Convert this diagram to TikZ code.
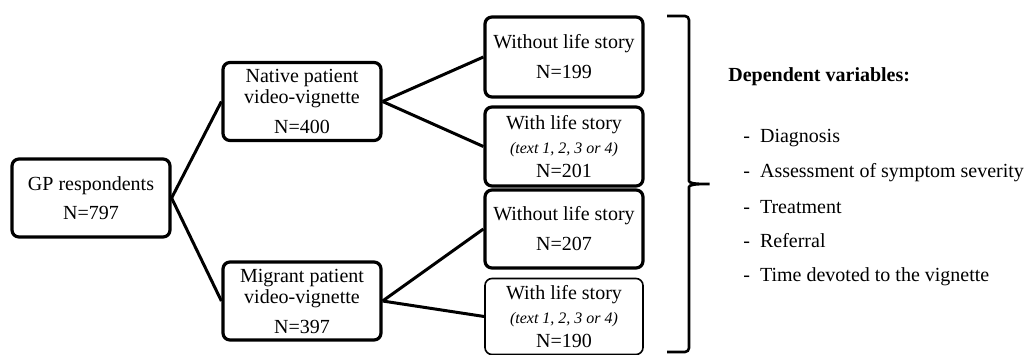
\documentclass[tikz,border=0pt]{standalone}
\usepackage{fontspec}
\setmainfont{Liberation Serif}
\usetikzlibrary{positioning}

\tikzset{
  grpbox/.style={draw, line width=1.6pt, rounded corners=3.5pt, align=center,
                 minimum width=79pt, minimum height=39pt, inner sep=1pt},
  thinbox/.style={grpbox, line width=0.8pt},
  link/.style={line width=1.5pt},
  dvitem/.style={anchor=west, inner sep=0pt}
}

\begin{document}
\begin{tikzpicture}[x=0.5pt, y=-0.5pt]
\useasboundingbox (0,0) rectangle (1028,354);

% whole sample
\node[grpbox] (gp) at (91,198) {GP respondents\\[2.5pt]N=797};

% first split: vignette
\node[grpbox] (native) at (302,101.5) {Native patient\\[-1.5pt]video-vignette\\[3pt]N=400};
\node[grpbox] (migrant) at (302,301) {Migrant patient\\[-1.5pt]video-vignette\\[3pt]N=397};

% second split: life story
\node[grpbox, minimum height=40pt] (natNo) at (564,57) {Without life story\\[3pt]N=199};
\node[grpbox, minimum height=39.5pt] (natLife) at (564,146.5)
  {With life story\\[0pt]{\footnotesize\itshape (text 1, 2, 3 or 4)}\\[0pt]N=201};
\node[grpbox, minimum height=39pt] (migNo) at (564,229) {Without life story\\[3pt]N=207};
\node[thinbox, minimum height=38pt] (migLife) at (564,316.5)
  {With life story\\[0pt]{\footnotesize\itshape (text 1, 2, 3 or 4)}\\[0pt]N=190};

\draw[link] (gp.east) -- (native.west);
\draw[link] (gp.east) -- (migrant.west);
\draw[link] (native.east) -- (natNo.west);
\draw[link] (native.east) -- (natLife.west);
\draw[link] (migrant.east) -- (migNo.west);
\draw[link] (migrant.east) -- (migLife.west);

% brace to the outcomes
\coordinate (brTop) at (667,16);
\coordinate (brTip) at (712,184);
\coordinate (brBot) at (667,352);
\draw[line width=1.3pt, rounded corners=2pt]
  (brTop) -- (689,16) -- (689,177)
  .. controls (689,183) and (694,184) .. (brTip)
  .. controls (694,184) and (689,185) .. (689,191)
  -- (689,352) -- (brBot);

% dependent variables
\node[dvitem] (dv) at (728,77) {\textbf{Dependent variables:}};
\node[dvitem] (dv1) at (743,138) {-\ \ Diagnosis};
\node[dvitem] (dv2) at (743,173) {-\ \ Assessment of symptom severity};
\node[dvitem] (dv3) at (743,207) {-\ \ Treatment};
\node[dvitem] (dv4) at (743,241) {-\ \ Referral};
\node[dvitem] (dv5) at (743,277) {-\ \ Time devoted to the vignette};

\end{tikzpicture}
\end{document}
